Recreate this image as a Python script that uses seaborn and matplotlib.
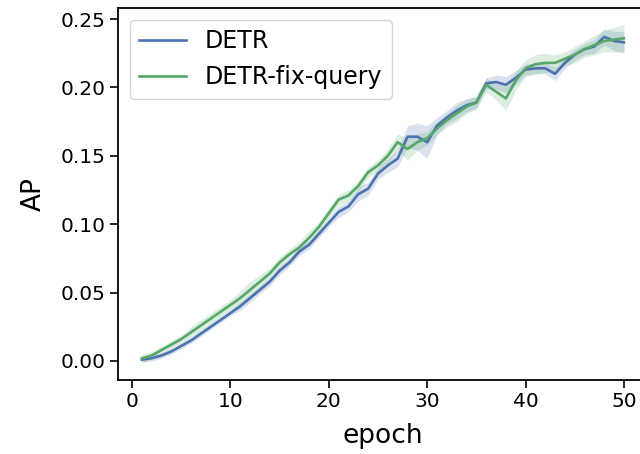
import matplotlib
matplotlib.use("Agg")
import matplotlib.pyplot as plt
import numpy as np
import pandas as pd
import seaborn as sns

# AP per epoch
epochs = list(range(1, 51))
detr_ap = [0.001, 0.002, 0.004, 0.007, 0.011, 0.015, 0.020, 0.025, 0.030, 0.035,
           0.040, 0.046, 0.052, 0.058, 0.066, 0.072, 0.080, 0.085, 0.093, 0.101,
           0.109, 0.113, 0.122, 0.126, 0.137, 0.143, 0.148, 0.164, 0.164, 0.160,
           0.172, 0.178, 0.183, 0.187, 0.189, 0.203, 0.204, 0.202, 0.207, 0.213,
           0.214, 0.214, 0.210, 0.218, 0.224, 0.228, 0.230, 0.237, 0.234, 0.233]
fixq_ap = [0.002, 0.004, 0.008, 0.012, 0.016, 0.021, 0.026, 0.031, 0.036, 0.041,
           0.046, 0.052, 0.058, 0.064, 0.072, 0.078, 0.083, 0.090, 0.098, 0.108,
           0.118, 0.121, 0.128, 0.138, 0.143, 0.150, 0.160, 0.155, 0.160, 0.163,
           0.170, 0.176, 0.181, 0.186, 0.189, 0.202, 0.197, 0.192, 0.205, 0.214,
           0.217, 0.218, 0.218, 0.221, 0.224, 0.228, 0.231, 0.234, 0.235, 0.236]
# half width of the shaded band
detr_spread = [0.002] * 10 + [0.003] * 10 + [0.004, 0.004, 0.005, 0.005, 0.004,
               0.005, 0.006, 0.008, 0.010, 0.012, 0.006, 0.005, 0.006, 0.005, 0.004,
               0.004, 0.005, 0.006, 0.005, 0.004, 0.004, 0.004, 0.005, 0.004, 0.004,
               0.004, 0.005, 0.006, 0.007, 0.008]
fixq_spread = [0.003] * 5 + [0.004] * 5 + [0.005, 0.006, 0.005, 0.004, 0.004,
               0.004, 0.004, 0.005, 0.004, 0.004, 0.004, 0.004, 0.004, 0.004, 0.004,
               0.005, 0.006, 0.008, 0.006, 0.005, 0.005, 0.005, 0.006, 0.005, 0.005,
               0.005, 0.006, 0.009, 0.007, 0.006, 0.007, 0.007, 0.006, 0.005, 0.006,
               0.006, 0.007, 0.008, 0.009, 0.010]

models = ['DETR', 'DETR-fix-query']
colors = ['#4c72b0', '#55a868']

df = pd.concat([
    pd.DataFrame({'epoch': epochs, 'AP': detr_ap, 'spread': detr_spread, 'model': models[0]}),
    pd.DataFrame({'epoch': epochs, 'AP': fixq_ap, 'spread': fixq_spread, 'model': models[1]}),
])

fig = plt.figure(figsize=(6.4, 4.54), dpi=100)
ax = fig.add_axes([0.184, 0.163, 0.8285, 0.819])

sns.lineplot(data=df, x='epoch', y='AP', hue='model', palette=colors,
             errorbar=None, linewidth=1.9, ax=ax)
for model, color in zip(models, colors):
    sub = df[df['model'] == model]
    ax.fill_between(sub['epoch'], sub['AP'] - sub['spread'], sub['AP'] + sub['spread'],
                    color=color, alpha=0.2, linewidth=0)

ax.set_xlim(-1.45, 52.45)
ax.set_ylim(-0.0139, 0.258)
ax.set_xticks([0, 10, 20, 30, 40, 50])
ax.set_yticks([0.0, 0.05, 0.10, 0.15, 0.20, 0.25])
ax.yaxis.set_major_formatter(matplotlib.ticker.FormatStrFormatter('%.2f'))
ax.tick_params(labelsize=14.5, length=5.5, width=1.2)
for s in ax.spines.values():
    s.set_linewidth(1.3)
ax.set_xlabel('epoch', fontsize=19, labelpad=8)
ax.set_ylabel('AP', fontsize=19, labelpad=10)
ax.legend(title=None, loc='upper left', fontsize=17)

fig.savefig('out.png', dpi=100)
